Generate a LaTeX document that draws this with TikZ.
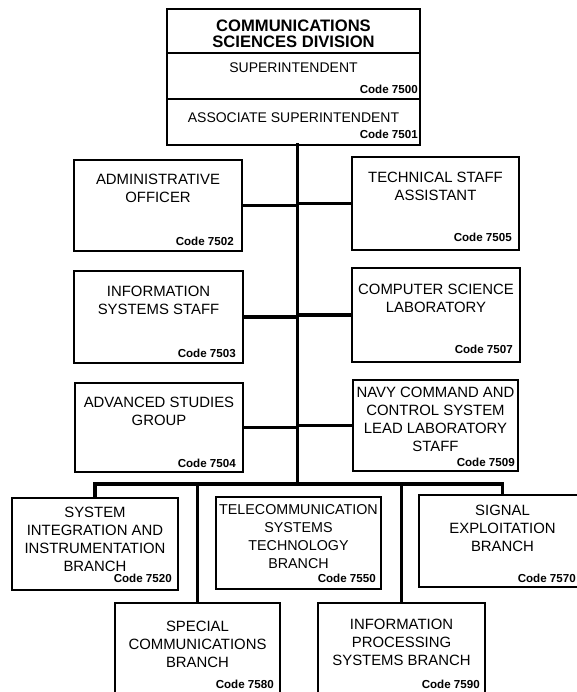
\documentclass[tikz,border=0pt]{standalone}
\usepackage{fontspec}
\setmainfont{Liberation Sans}
\begin{document}
\begin{tikzpicture}[x=1pt,y=-1pt,
  box/.style={draw=black, line width=1.3pt, inner sep=0pt, rectangle},
  txt/.style={inner sep=0pt, align=center, anchor=north, font=\fontsize{14.9}{18}\selectfont},
  toptxt/.style={inner sep=0pt, align=center, anchor=north, font=\fontsize{14}{17}\selectfont},
  ttl/.style={inner sep=0pt, align=center, anchor=north, font=\bfseries\fontsize{16.6}{16}\selectfont},
  code/.style={inner sep=0pt, anchor=base east, font=\bfseries\fontsize{11.6}{13}\selectfont},
  conn/.style={line width=3.7pt, line join=miter, line cap=rect}]
\useasboundingbox (0,0) rectangle (577,692);
\clip (0,0) rectangle (577,692);
\fill[white] (0,0) rectangle (577,692);

% top box (three sections)
\node[box, minimum width=253pt, minimum height=44pt] (title) at (293.5,31) {};
\node[box, minimum width=253pt, minimum height=46pt] (sup) at (293.5,76) {};
\node[box, minimum width=253pt, minimum height=46pt] (assoc) at (293.5,122) {};
\node[ttl] (ttitle) at (293.5,20) {COMMUNICATIONS\\SCIENCES DIVISION};
\node[toptxt] (tsup) at (293.5,63) {SUPERINTENDENT};
\node[code] (c7500) at (418,94) {Code 7500};
\node[toptxt] (tassoc) at (293.5,113) {ASSOCIATE SUPERINTENDENT};
\node[code] (c7501) at (418,139) {Code 7501};

% left column
\node[box, minimum width=168pt, minimum height=91pt] (admin) at (158,205.5) {};
\node[box, minimum width=169pt, minimum height=92pt] (info) at (158.5,317) {};
\node[box, minimum width=168pt, minimum height=89pt] (adv) at (159,427.5) {};
% right column
\node[box, minimum width=167pt, minimum height=93pt] (tech) at (435.5,203.5) {};
\node[box, minimum width=168pt, minimum height=94pt] (comp) at (436,315) {};
\node[box, minimum width=165pt, minimum height=91pt] (navy) at (435.5,425.5) {};
% branch rows
\node[box, minimum width=166pt, minimum height=92pt] (sys) at (95,544) {};
\node[box, minimum width=165pt, minimum height=92pt] (tel) at (298.5,543) {};
\node[box, minimum width=167pt, minimum height=92pt] (sig) at (502.5,541) {};
\node[box, minimum width=165pt, minimum height=97pt] (spec) at (197.5,651.5) {};
\node[box, minimum width=167pt, minimum height=97pt] (infop) at (401.5,651.5) {};

% texts
\node[txt] (tadmin) at ([yshift=-15pt]admin.north) {ADMINISTRATIVE\\OFFICER};
\node[code] (c7502) at (234,246) {Code 7502};
\node[txt] (tinfo) at ([yshift=-16pt]info.north) {INFORMATION\\SYSTEMS STAFF};
\node[code] (c7503) at (236,357) {Code 7503};
\node[txt] (tadv) at ([yshift=-15pt]adv.north) {ADVANCED STUDIES\\GROUP};
\node[code] (c7504) at (236,467) {Code 7504};
\node[txt] (ttech) at ([yshift=-16pt]tech.north) {TECHNICAL STAFF\\ASSISTANT};
\node[code] (c7505) at (512,242) {Code 7505};
\node[txt] (tcomp) at ([yshift=-17pt]comp.north) {COMPUTER SCIENCE\\LABORATORY};
\node[code] (c7507) at (513,353) {Code 7507};
\node[txt] (tnavy) at ([yshift=-8pt]navy.north) {NAVY COMMAND AND\\CONTROL SYSTEM\\LEAD LABORATORY\\STAFF};
\node[code] (c7509) at (515,466) {Code 7509};
\node[txt] (tsys) at ([yshift=-10pt]sys.north) {SYSTEM\\INTEGRATION AND\\INSTRUMENTATION\\BRANCH};
\node[code] (c7520) at (172,582) {Code 7520};
\node[txt, font=\fontsize{14.3}{18}\selectfont] (ttel) at ([yshift=-8pt]tel.north) {TELECOMMUNICATION\\SYSTEMS\\TECHNOLOGY\\BRANCH};
\node[code] (c7550) at (376,582) {Code 7550};
\node[txt] (tsig) at ([yshift=-11pt]sig.north) {SIGNAL\\EXPLOITATION\\BRANCH};
\node[code] (c7570) at (576,582) {Code 7570};
\node[txt] (tspec) at ([yshift=-19pt]spec.north) {SPECIAL\\COMMUNICATIONS\\BRANCH};
\node[code] (c7580) at (274,688) {Code 7580};
\node[txt] (tinfop) at ([yshift=-17pt]infop.north) {INFORMATION\\PROCESSING\\SYSTEMS BRANCH};
\node[code] (c7590) at (480,688) {Code 7590};

% connectors
\coordinate (ttop) at (297.5,145);
\coordinate (bar) at (297.5,484);
\draw[conn] (ttop) -- (bar);
\draw[conn] (admin.east) -- (admin.east -| ttop);
\draw[conn] (info.east) -- (info.east -| ttop);
\draw[conn] (adv.east) -- (adv.east -| ttop);
\draw[conn] (tech.west) -- (tech.west -| ttop);
\draw[conn] (comp.west) -- (comp.west -| ttop);
\draw[conn] (navy.west) -- (navy.west -| ttop);
\draw[conn, line cap=butt] (sys.north) -- (sys.north |- bar) -- (sig.north |- bar) -- (sig.north);
\draw[conn, line cap=butt] (bar -| spec.north) -- (spec.north);
\draw[conn, line cap=butt] (bar -| infop.north) -- (infop.north);
\end{tikzpicture}
\end{document}
